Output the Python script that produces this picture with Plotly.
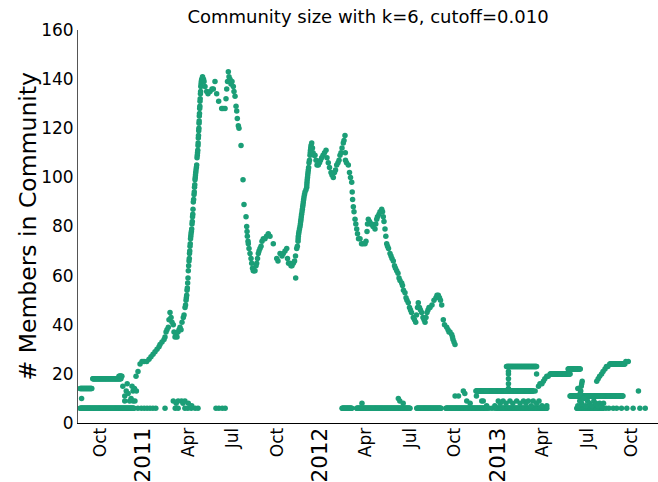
import datetime as dt
import plotly.graph_objects as go

EPOCH = dt.datetime(2010, 10, 1)  # day 0 for all day offsets below

# Largest community: day offset from EPOCH and member count
main_days = [
    74.2, 78.3, 82.5, 86.6, 90.7, 96.3, 101.0, 105.1, 109.3, 113.4,
    117.5, 121.6, 123.7, 127.8, 131.9, 134.0, 136.1, 138.1, 140.8, 142.2,
    144.3, 146.4, 148.4, 151.1, 152.5, 154.6, 156.7, 158.7, 160.8, 162.9,
    164.9, 167.0, 169.0, 171.7, 173.2, 175.2, 176.3, 177.3, 178.0, 178.7, 179.4, 180.0, 180.7, 181.4,
    182.0, 182.7, 183.5, 184.0, 184.5, 185.0, 185.5, 186.0, 186.6, 187.1, 187.6, 188.3, 189.0, 189.6,
    190.2, 190.7, 191.2, 191.7,
    192.3, 193.0, 193.8, 194.3, 194.8, 195.3, 195.8, 196.3, 196.8, 197.3, 197.9, 198.6, 199.3, 200.0,
    200.5, 201.0, 201.5, 202.0,
    202.3, 202.6, 203.0, 203.5, 203.8, 204.1, 204.4, 204.7, 205.1, 205.5, 205.8, 206.1, 206.5, 207.0,
    207.4, 207.8, 208.3, 208.8, 209.6,
    211.3, 213.3, 214.4, 216.4, 219.9, 222.6, 226.8, 230.9, 233.6, 237.0,
    240.5, 244.6, 250.8, 253.5, 257.7, 259.7, 261.2, 262.8, 264.5, 265.9,
    268.0, 270.0, 272.1, 274.8, 276.2, 278.3, 280.4, 281.8, 283.0, 285.1,
    286.5, 290.7, 294.8, 296.8, 301.0, 302.4, 303.1, 303.7, 305.1, 305.7, 307.1,
    309.2, 311.3, 312.7, 314.4, 316.0, 317.5, 319.5, 321.6, 323.0, 324.7,
    326.3, 327.8, 329.8, 331.9, 333.9, 336.6, 340.1, 343.2, 346.9, 350.4,
    357.2, 364.3, 366.9, 371.1, 375.2, 377.9, 381.4, 384.9, 386.5, 388.6,
    391.7, 393.7, 395.8, 398.5, 401.0, 403.0, 403.4, 405.5, 406.8, 408.2, 408.5, 408.8, 409.5,
    410.2, 411.2, 412.3, 413.0, 413.7, 414.3, 414.9, 415.6, 416.4, 417.1, 417.8, 418.5, 419.1, 419.8,
    420.5, 421.5, 422.6, 424.6,
    426.1, 426.4, 426.7, 427.2, 427.7, 428.2, 428.8, 429.4, 430.1, 430.8, 431.8, 432.9, 433.4, 433.9,
    434.4, 435.0, 436.4,
    438.0, 439.1, 441.1, 443.2, 445.3, 447.3, 450.0, 452.5, 454.5, 457.0,
    459.7, 462.8, 465.9, 467.9, 470.6, 473.1, 476.2, 478.2, 480.9, 483.4,
    485.5, 487.9, 490.6, 492.7, 494.7, 496.8, 498.9, 501.5, 503.0, 505.0,
    505.7, 506.0, 508.1, 511.9, 514.3, 516.4, 518.9, 519.9, 520.7, 522.2,
    523.6, 525.7, 527.3, 529.2, 530.8, 532.9, 536.0, 539.1, 542.1, 546.3,
    548.3, 550.4, 551.4, 553.1, 555.6, 557.6, 560.1, 562.8, 566.9, 568.5,
    570.4, 572.0, 575.1, 577.2, 580.7, 582.4, 584.0, 585.4, 587.5, 589.2,
    591.0, 592.7, 594.7, 597.8, 599.9, 601.9, 604.6, 607.1, 609.1, 611.6,
    614.3, 616.4, 618.4, 621.9, 623.6, 625.6, 628.7, 630.8, 632.8, 635.5,
    638.0, 640.1, 642.1, 645.8, 648.3, 650.8, 652.4, 654.5, 656.1, 658.6,
    660.7, 663.1, 665.8, 667.9, 670.0, 672.0, 674.1, 676.1, 678.2, 680.3,
    684.4, 688.5, 692.6, 694.7, 697.4, 699.8, 701.9, 704.4, 707.7, 710.2,
    714.7, 717.4, 719.4, 721.5, 725.0, 726.6, 727.7, 729.7, 731.8,
]
main_sizes = [
    19, 21, 24, 25, 25, 25, 26, 27, 28, 29,
    30, 31, 32, 33, 34, 35, 37, 38, 39, 42,
    45, 43, 41, 40, 37, 35, 36, 35, 37, 38,
    39, 38, 41, 43, 44, 47, 48, 50, 51, 52, 54, 55, 57, 59,
    62, 64, 66, 67, 69, 70, 72, 73, 75, 76, 77, 78, 79, 81,
    82, 84, 85, 87,
    90, 91, 93, 94, 96, 97, 99, 100, 101, 102, 103, 104, 105, 108,
    109, 110, 111, 113,
    114, 116, 117, 119, 120, 122, 123, 125, 126, 128, 129, 131, 132, 134,
    135, 137, 138, 139, 140,
    141, 140, 139, 137, 135, 134, 135, 136, 136, 139,
    134, 131, 128, 128, 128, 132, 136, 139, 143, 141,
    140, 138, 139, 137, 135, 133, 129, 127, 124, 121,
    120, 113, 99, 89, 84, 80, 78, 76, 74, 73, 71,
    69, 67, 65, 63, 62, 62, 62, 64, 65, 67,
    69, 70, 71, 72, 74, 75, 75, 76, 77, 76,
    73, 67, 66, 69, 68, 69, 70, 71, 67, 65,
    65, 64, 64, 65, 66, 68, 59, 71, 72, 74, 75, 76, 77,
    78, 79, 80, 81, 82, 83, 84, 85, 86, 87, 88, 89, 90, 91,
    92, 93, 94, 95,
    96, 97, 98, 99, 100, 101, 102, 103, 104, 106, 107, 109, 110, 111,
    112, 113, 114,
    112, 110, 109, 109, 107, 105, 105, 106, 107, 108,
    109, 110, 111, 108, 106, 104, 102, 101, 100, 102,
    103, 105, 106, 107, 109, 110, 112, 114, 115, 117,
    110, 107, 106, 105, 102, 100, 98, 94, 91, 88,
    86, 83, 81, 79, 77, 75, 75, 73, 73, 73,
    74, 78, 81, 83, 82, 81, 81, 80, 79, 81,
    83, 84, 85, 86, 87, 86, 84, 82, 79, 76,
    73, 72, 71, 69, 68, 67, 66, 64, 63, 62,
    61, 59, 58, 57, 56, 54, 53, 51, 50, 49,
    47, 46, 45, 43, 42, 41, 44, 47, 49, 47,
    46, 45, 43, 42, 41, 43, 45, 46, 47, 47,
    48, 50, 51, 52, 52, 51, 50, 48, 42, 40,
    39, 38, 37, 37, 36, 35, 34, 33, 32,
]

# Stretches of consecutive days on which a small community kept one size
run_sizes = [6, 6, 6, 6, 6, 6, 6, 14, 18, 19, 13, 23, 20, 22, 11, 24]
run_first = [-41, 499, 529, 653, 713, 818, 983, -41, -15, 39, 775, 838, 928, 965, 969, 1051]
run_last = [70, 519, 639, 703, 798, 921, 1037, -17, 43, 45, 893, 900, 969, 990, 1078, 1082]

# Scattered observations of the smaller communities
small_days = [
    -38, 47, 51, 51, 54, 56, 58, 61, 64, 66, 68, 68, 71, 72, 75,
    78, 85, 91, 97, 103, 109, 115, 134, 155, 161, 175, 181, 188, 196, 202,
    239, 245, 252, 258,
    151, 157, 161, 168, 171, 175, 182, 189,
    540, 615, 618, 625,
    732, 739, 749, 752, 756, 763, 776, 787, 797, 802, 808, 814,
    790, 797, 814, 821, 825, 831, 837, 845, 851, 859, 866, 873, 878, 883,
    889, 893, 900, 905, 911, 921,
    837, 842, 842, 842, 842, 842,
    897, 900, 904, 907, 911, 914, 917, 921, 924,
    985, 989, 993, 997, 1001, 1005, 1009, 1014, 1018, 1022, 1026, 1030, 1034, 1038,
    985, 990, 991, 992, 993, 994,
    1024, 1027, 1030, 1034, 1037, 1041, 1044, 1047,
    1084, 1089,
    1043, 1049, 1058, 1065, 1075, 1086, 1099, 1113, 1124, 1110,
]
small_sizes = [
    10, 15, 11, 9, 13, 16, 12, 9, 10, 15, 13, 9, 14, 9, 13,
    6, 6, 6, 6, 6, 6, 6, 6, 6, 6, 6, 6, 6, 6, 6,
    6, 6, 6, 6,
    9, 8, 9, 9, 8, 9, 8, 7,
    8, 10, 9, 8,
    11, 11, 13, 12, 9, 8, 11, 9, 13, 6, 6, 6,
    9, 7, 7, 9, 8, 9, 8, 9, 8, 9, 8, 9, 8, 9,
    7, 9, 8, 9, 7, 7,
    13, 14, 16, 18, 20, 21,
    13, 20, 15, 16, 16, 17, 18, 19, 19,
    7, 9, 8, 10, 7, 9, 8, 7, 9, 8, 7, 8, 7, 8,
    14, 12, 13, 15, 16, 17,
    17, 18, 19, 20, 21, 22, 23, 23,
    25, 25,
    6, 6, 6, 6, 6, 6, 6, 6, 6, 13,
]

# Axis ticks: month labels plus larger year labels
tick_dates = ["2010-10-01", "2011-01-01", "2011-04-01", "2011-07-01", "2011-10-01",
              "2012-01-01", "2012-04-01", "2012-07-01", "2012-10-01",
              "2013-01-01", "2013-04-01", "2013-07-01", "2013-10-01"]
tick_labels = ["Oct", "2011", "Apr", "Jul", "Oct", "2012", "Apr", "Jul", "Oct",
               "2013", "Apr", "Jul", "Oct"]
y_ticks = [0, 20, 40, 60, 80, 100, 120, 140, 160]

GREEN = "#1b9e77"
FONT = "DejaVu Sans"


def to_dates(days):
    return [EPOCH + dt.timedelta(days=float(d)) for d in days]


run_days, run_vals = [], []
for size, first, last in zip(run_sizes, run_first, run_last):
    for d in range(first, last + 1):
        run_days.append(d)
        run_vals.append(size)

all_days = run_days + small_days + main_days
all_sizes = run_vals + small_sizes + main_sizes

ticktext = [
    f'<span style="font-size:21.5px">{t}</span>' if t.isdigit() else t
    for t in tick_labels
]

fig = go.Figure(
    go.Scatter(
        x=to_dates(all_days),
        y=all_sizes,
        mode="markers",
        marker=dict(color=GREEN, size=5.5, line=dict(width=0)),
        hoverinfo="skip",
        showlegend=False,
    )
)

fig.update_layout(
    width=658,
    height=482,
    margin=dict(l=78, r=0, t=30, b=59, autoexpand=False),
    paper_bgcolor="white",
    plot_bgcolor="white",
    font=dict(family=FONT, color="black"),
    title=dict(
        text="Community size with k=6, cutoff=0.010",
        font=dict(family=FONT, size=18, color="black"),
        x=0.5, xref="paper", xanchor="center",
        y=1 - 17 / 482, yref="container", yanchor="middle",
    ),
    xaxis=dict(
        type="date",
        range=[EPOCH + dt.timedelta(days=-45.4), EPOCH + dt.timedelta(days=1150.3)],
        tickvals=tick_dates,
        ticktext=ticktext,
        tickangle=-90,
        tickfont=dict(family=FONT, size=17, color="black"),
        ticklabelstandoff=-3,
        automargin=False,
        showgrid=False,
        zeroline=False,
        showline=True,
        linecolor="black",
        linewidth=1,
        ticks="",
    ),
    yaxis=dict(
        range=[0, 160],
        tickvals=y_ticks,
        tickfont=dict(family=FONT, size=17, color="black"),
        automargin=False,
        showgrid=False,
        zeroline=False,
        showline=True,
        linecolor="#555555",
        linewidth=1,
        ticks="",
    ),
    annotations=[
        dict(
            text="# Members in Community",
            xref="paper", yref="paper",
            x=-(78 - 27) / 580, y=0.5,
            xanchor="center", yanchor="middle",
            textangle=-90,
            showarrow=False,
            font=dict(family=FONT, size=23.5, color="black"),
        )
    ],
)

fig.write_html("out.html")
